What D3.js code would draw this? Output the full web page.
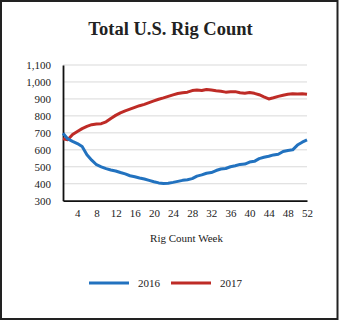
<!DOCTYPE html>
<html>
<head>
<meta charset="utf-8">
<script src="https://cdn.jsdelivr.net/npm/d3@7"></script>
<style>
  html, body { margin: 0; padding: 0; background: #fff; }
  svg { display: block; }
  text { font-family: "Liberation Serif", "Times New Roman", serif; fill: #222; }
</style>
</head>
<body>
<svg id="chart" width="341" height="321"></svg>
<script>
const weeks = d3.range(1, 53);
const rigs2016 = [698, 664, 650, 637, 619, 571, 539, 512, 500, 489, 481, 475, 466, 458, 447, 441, 434, 428, 420, 412, 405, 402, 403, 408, 414, 420, 424, 430, 445, 452, 462, 466, 478, 487, 490, 500, 506, 514, 516, 528, 532, 548, 556, 562, 570, 574, 590, 596, 600, 628, 645, 658];
const rigs2017 = [665, 659, 690, 708, 725, 738, 748, 752, 754, 765, 785, 803, 818, 830, 840, 850, 860, 868, 878, 888, 898, 906, 915, 924, 932, 937, 940, 949, 952, 950, 956, 952, 948, 945, 940, 942, 943, 936, 934, 938, 933, 925, 912, 900, 907, 915, 922, 927, 930, 929, 930, 927];
const seriesNames = ["2016", "2017"];
const seriesColors = ["#2272bf", "#be2b26"];
const yTicks = [300, 400, 500, 600, 700, 800, 900, 1000, 1100];
const xTicks = [4, 8, 12, 16, 20, 24, 28, 32, 36, 40, 44, 48, 52];
const title = "Total U.S. Rig Count";
const xTitle = "Rig Count Week";

const svg = d3.select("#chart");

// outer frame
svg.append("rect").attr("x", 1).attr("y", 1).attr("width", 336.5).attr("height", 318)
  .attr("fill", "#fff").attr("stroke", "#222").attr("stroke-width", 2);

const x = d3.scaleLinear().domain([1, 52]).range([63, 307]);
const y = d3.scaleLinear().domain([300, 1100]).range([200.7, 65]);

// title
svg.append("text").attr("x", 170.5).attr("y", 34.5).attr("text-anchor", "middle")
  .style("font-size", "18.5px").style("font-weight", "bold").text(title);

// gridlines
svg.append("g").selectAll("line").data(yTicks.filter(d => d > 300)).join("line")
  .attr("x1", x(1)).attr("x2", x(52))
  .attr("y1", d => y(d)).attr("y2", d => y(d))
  .attr("stroke", "#d9d9d9").attr("stroke-width", 1);

// y axis
const yAxis = d3.axisLeft(y).tickValues(yTicks).tickFormat(d3.format(",")).tickSize(0).tickPadding(12);
const gy = svg.append("g").attr("transform", `translate(${x(1)},0)`).call(yAxis);
gy.select(".domain").attr("stroke", "#111").attr("stroke-width", 1.8);
gy.selectAll("text").style("font-size", "11px").style("font-family", "Liberation Serif, serif").attr("fill", "#222");

// x axis
const xAxis = d3.axisBottom(x).tickValues(xTicks).tickSize(0).tickPadding(9);
const gx = svg.append("g").attr("transform", `translate(0,${y(300)})`).call(xAxis);
gx.select(".domain").attr("stroke", "#111").attr("stroke-width", 1.8);
gx.selectAll("text").style("font-size", "11px").style("font-family", "Liberation Serif, serif").attr("fill", "#222");

// x title
svg.append("text").attr("x", 186.5).attr("y", 242).attr("text-anchor", "middle")
  .style("font-size", "11px").text(xTitle);

// lines
const line = d3.line().x((d, i) => x(weeks[i])).y(d => y(d)).curve(d3.curveLinear);
[rigs2017, rigs2016].forEach((s, k) => {
  const i = k === 0 ? 1 : 0;
  svg.append("path").datum(s).attr("d", line)
    .attr("fill", "none").attr("stroke", seriesColors[i]).attr("stroke-width", 3)
    .attr("stroke-linejoin", "round");
});

// legend
const legendItems = [{ x1: 89, x2: 129, tx: 138 }, { x1: 171, x2: 211, tx: 220 }];
legendItems.forEach((p, i) => {
  svg.append("line").attr("x1", p.x1).attr("x2", p.x2).attr("y1", 283).attr("y2", 283)
    .attr("stroke", seriesColors[i]).attr("stroke-width", 3);
  svg.append("text").attr("x", p.tx).attr("y", 287).style("font-size", "11px").text(seriesNames[i]);
});
</script>
</body>
</html>
